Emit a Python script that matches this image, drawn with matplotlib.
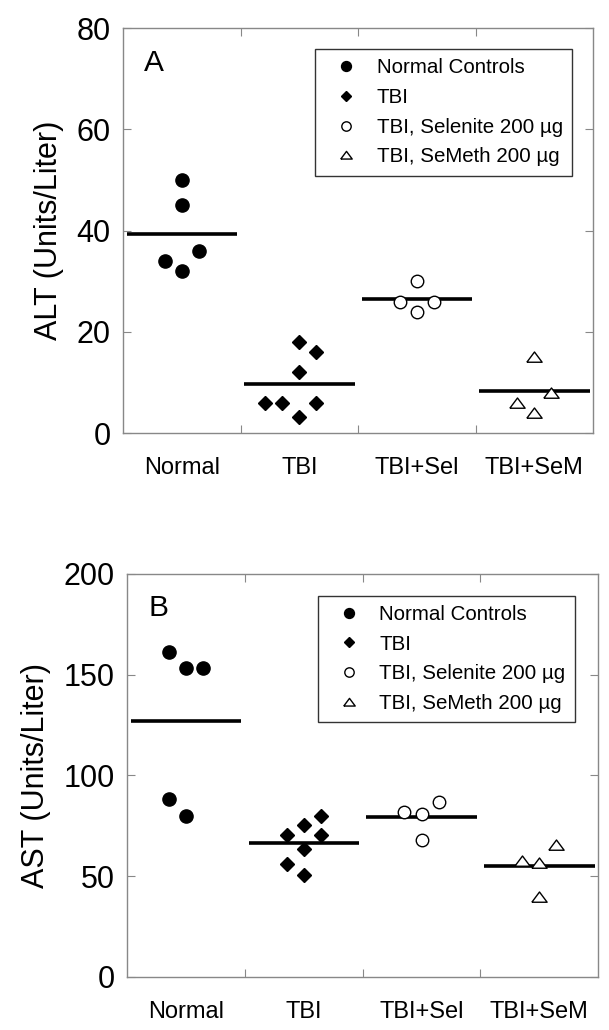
import numpy as np
import matplotlib
matplotlib.use("Agg")
import matplotlib.pyplot as plt
from matplotlib.ticker import FixedLocator

plt.rcParams['font.family'] = ['Liberation Sans', 'DejaVu Sans']

groups = ["Normal", "TBI", "TBI+Sel", "TBI+SeM"]
legend_labels = ["Normal Controls", "TBI", "TBI, Selenite 200 \u00b5g", "TBI, SeMeth 200 \u00b5g"]

# ALT (Units/Liter), panel A
alt_normal = [50, 45, 36, 34, 32]
alt_tbi = [18, 16.1, 12.1, 6, 6, 6, 3.1]
alt_sel = [30, 25.9, 25.9, 24]
alt_sem = [15, 6, 8, 3.9]

# AST (Units/Liter), panel B
ast_normal = [161.5, 153.3, 153.3, 88.5, 79.7]
ast_tbi = [70.6, 75.6, 79.7, 70.6, 63.5, 55.9, 50.8]
ast_sel = [81.8, 80.7, 86.8, 67.8]
ast_sem = [57.6, 56.6, 65.7, 39.8]

# horizontal scatter slots for overlapping points (in units of one slot)
alt_slots = [[0, 0, 1, -1, 0], [0, 1, 0, -2, -1, 1, 0], [0, -1, 1, 0], [0, -1, 1, 0]]
ast_slots = [[-1, 0, 1, -1, 0], [-1, 0, 1, 1, 0, -1, 0], [-1, 0, 1, 0], [-1, 0, 1, 0]]
slot_w = 0.145

tri = [(-1, -0.62), (1, -0.62), (0, 0.72), (-1, -0.62)]
styles = [
    dict(marker='o', ms=9.5, mfc='black', mec='black'),
    dict(marker='D', ms=7.2, mfc='black', mec='black'),
    dict(marker='o', ms=9, mfc='white', mec='black', mew=1.0),
    dict(marker=tri, ms=11, mfc='white', mec='black', mew=1.0),
]

fig = plt.figure(figsize=(6.09, 10.30), dpi=100)
axA = fig.add_axes([0.2020, 0.5796, 0.7718, 0.3932])
axB = fig.add_axes([0.2090, 0.0515, 0.7730, 0.3913])

panels = [
    (axA, [alt_normal, alt_tbi, alt_sel, alt_sem], alt_slots, 80, 20,
     "ALT (Units/Liter)", "A", (0.4085, 0.948)),
    (axB, [ast_normal, ast_tbi, ast_sel, ast_sem], ast_slots, 200, 50,
     "AST (Units/Liter)", "B", (0.4045, 0.946)),
]

for ax, data, slots, ymax, ystep, ylab, letter, leg_xy in panels:
    handles = []
    for i, (vals, sl, st) in enumerate(zip(data, slots, styles)):
        xc = i + 1
        xs = xc + np.array(sl) * slot_w
        h, = ax.plot(xs, vals, linestyle='none', **st)
        handles.append(h)
        ax.hlines(np.mean(vals), xc - 0.47, xc + 0.47, color='black', lw=2.6, zorder=1)

    ax.set_xlim(0.5, 4.5)
    ax.set_ylim(0, ymax)
    ax.set_xticks([1, 2, 3, 4])
    ax.set_xticklabels(groups, fontsize=17)
    ax.xaxis.set_minor_locator(FixedLocator([1.5, 2.5, 3.5]))
    ax.tick_params(axis='x', which='major', length=0, pad=17)
    ax.tick_params(axis='x', which='minor', direction='in', length=6,
                   top=True, bottom=True, color='#888888', width=0.8)
    ax.set_yticks(np.arange(0, ymax + 1, ystep))
    ax.tick_params(axis='y', direction='in', length=6, left=True, right=True,
                   labelsize=22, pad=9, color='#888888', width=0.8)
    for s in ax.spines.values():
        s.set_color('#888888')
        s.set_linewidth(1.0)
    ax.set_ylabel(ylab, fontsize=22, labelpad=9)
    ax.text(0.045, 0.895, letter, transform=ax.transAxes, fontsize=21.5)

    leg = ax.legend(handles, legend_labels, loc='upper left', bbox_to_anchor=leg_xy,
                    borderaxespad=0, fontsize=14.8, numpoints=1, markerscale=0.75,
                    handlelength=2.1, handletextpad=0.45, borderpad=0.45,
                    labelspacing=0.52, fancybox=False, framealpha=1)
    leg.get_frame().set_edgecolor('#333333')
    leg.get_frame().set_linewidth(1.0)

fig.savefig("out.png", dpi=100)
